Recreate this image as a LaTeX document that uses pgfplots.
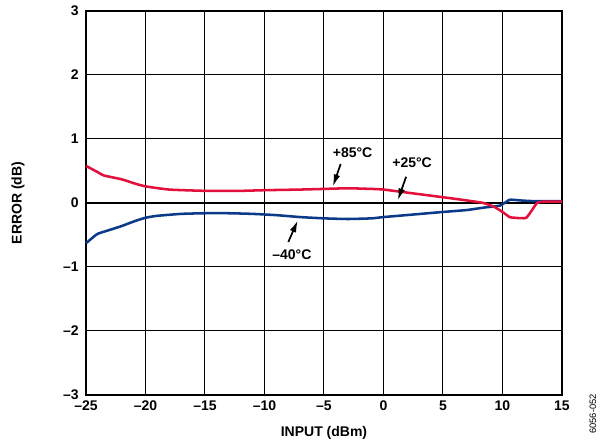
\documentclass[border=0pt]{standalone}
\usepackage{pgfplots}
\pgfplotsset{compat=1.18}
\usetikzlibrary{arrows.meta}
\usepackage{fontspec}
\setmainfont{Liberation Sans}
\definecolor{cred}{RGB}{226,16,58}
\definecolor{cblue}{RGB}{12,58,138}
\begin{document}
\begin{tikzpicture}[x=1pt,y=1pt]
\begin{axis}[
  scale only axis,
  width=357pt, height=288pt,
  xmin=-25, xmax=15, ymin=-3, ymax=3,
  xtick={-25,-20,...,15},
  ytick={-3,-2,...,3},
  xticklabels={--25,--20,--15,--10,--5,0,5,10,15},
  yticklabels={--3,--2,--1,0,1,2,3},
  grid=major,
  major grid style={black, line width=0.75pt},
  axis line style={black, line width=1pt},
  tick style={draw=none},
  ticklabel style={font=\fontsize{10.5}{12}\selectfont\bfseries},
  xticklabel style={yshift=-1pt},
  yticklabel style={xshift=-2pt},
  xlabel={INPUT (dBm)},
  ylabel={ERROR (dB)},
  label style={font=\fontsize{10.5}{12}\selectfont\bfseries},
  xlabel style={at={(axis description cs:0.5,-0.099)}, anchor=center},
  ylabel style={at={(axis description cs:-0.143,0.5)}, anchor=center},
  clip=false,
]
\addplot[black, line width=1.9pt] coordinates {(-25,0) (15,0)};
\addplot[cblue, line width=1.9pt, smooth, tension=0.3] coordinates {
(-25,-0.63) (-24.5,-0.55) (-24,-0.48) (-23,-0.42) (-22,-0.36) (-21,-0.29)
(-20,-0.23) (-19,-0.20) (-17,-0.17) (-15,-0.16) (-13,-0.16) (-11,-0.17)
(-9,-0.19) (-7,-0.22) (-5,-0.24) (-3,-0.25) (-1,-0.24) (0,-0.22)
(2.5,-0.18) (5,-0.14) (7,-0.11) (8.5,-0.07) (9.8,-0.04) (10.6,0.05)
(11.5,0.04) (12.5,0.03) (15,0.03)};
\addplot[cred, line width=1.9pt, smooth, tension=0.3] coordinates {
(-25,0.58) (-24,0.48) (-23.5,0.43) (-22,0.37) (-21,0.31) (-20,0.26)
(-18,0.21) (-15,0.19) (-12,0.19) (-10,0.20) (-7,0.21) (-5,0.22)
(-3,0.23) (-1,0.22) (0,0.21) (2.5,0.15) (5,0.09) (7,0.04) (8.4,0.0)
(9.3,-0.06) (10,-0.14) (10.6,-0.22) (11,-0.23) (12,-0.23) (12.9,0.0)
(13.5,0.02) (15,0.02)};
\node[font=\fontsize{10.5}{12}\selectfont\bfseries] at (axis cs:-2.6,0.78) {+85°C};
\node[font=\fontsize{10.5}{12}\selectfont\bfseries] at (axis cs:2.4,0.625) {+25°C};
\node[font=\fontsize{10.5}{12}\selectfont\bfseries] at (axis cs:-7.7,-0.81) {--40°C};
\draw[-{Latex[length=9pt,width=5pt]}, line width=1.3pt] (axis cs:-3.6,0.61) -- (axis cs:-4.25,0.26);
\draw[-{Latex[length=9pt,width=5pt]}, line width=1.3pt] (axis cs:1.9,0.41) -- (axis cs:1.2,0.04);
\draw[-{Latex[length=9pt,width=5pt]}, line width=1.3pt] (axis cs:-8.0,-0.61) -- (axis cs:-7.2,-0.27);
\end{axis}
\node[rotate=90, font=\fontsize{7}{8}\selectfont] at (380.25,-14.25) {6056-052};
\pgfresetboundingbox
\path[use as bounding box] (-64.5,-36) rectangle (391.5,296.25);
\end{tikzpicture}
\end{document}
